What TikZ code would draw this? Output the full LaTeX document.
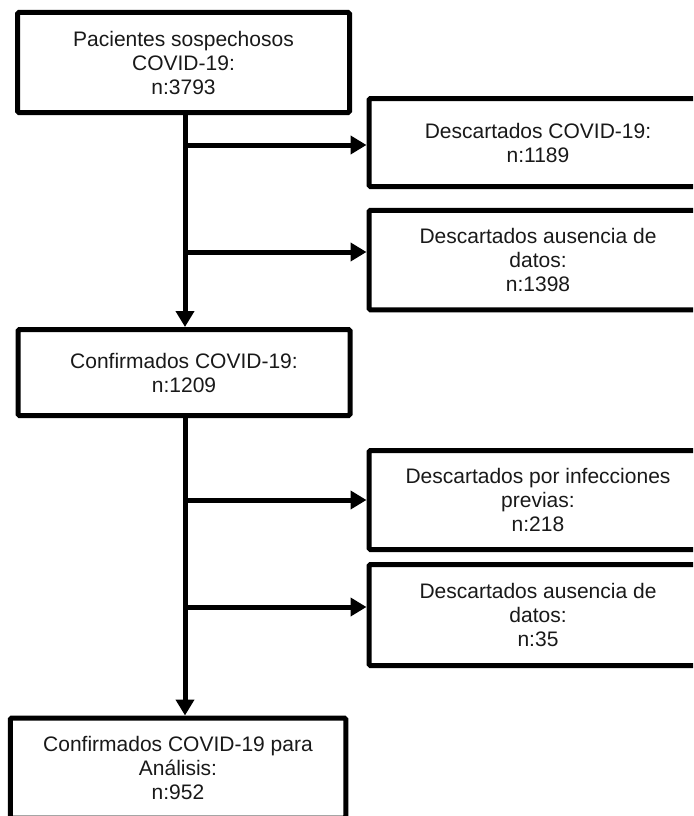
\documentclass[tikz,border=0pt]{standalone}
\usepackage{fontspec}
\setmainfont{Liberation Sans}
\usetikzlibrary{arrows.meta}
\begin{document}
\begin{tikzpicture}[x=1pt,y=-1pt,
  box/.style={draw=black,line width=5pt,rounded corners=1.5pt,fill=white,inner sep=0pt,
    align=center,font=\fontsize{21}{24}\selectfont,text=black!90},
  arr/.style={draw=black,line width=5pt,-{Triangle[length=16pt,width=18pt]}},
  seg/.style={draw=black,line width=5pt}]
\useasboundingbox (0,0) rectangle (693,816);
\clip (0,0) rectangle (693,816);
\fill[white] (0,0) rectangle (693,816);
% main column
\node[box,minimum width=332pt,minimum height=100pt] (p) at (183.5,62.5)
  {Pacientes sospechosos\\COVID-19:\\n:3793};
\node[box,minimum width=332pt,minimum height=86pt] (c) at (184,372.5)
  {Confirmados COVID-19:\\n:1209};
\node[box,minimum width=335.5pt,minimum height=100pt] (f) at (178,768)
  {Confirmados COVID-19 para\\Análisis:\\n:952};
% side boxes
\node[box,minimum width=338pt,minimum height=88pt] (a) at (538,142.5)
  {Descartados COVID-19:\\n:1189};
\node[box,minimum width=338pt,minimum height=99.5pt] (b) at (538,260)
  {Descartados ausencia de\\datos:\\n:1398};
\node[box,minimum width=338pt,minimum height=99pt] (d) at (538,500)
  {Descartados por infecciones\\previas:\\n:218};
\node[box,minimum width=338pt,minimum height=101pt] (e) at (538,615)
  {Descartados ausencia de\\datos:\\n:35};
% branch points
\coordinate (pa) at (185,145);
\coordinate (pb) at (185,252);
\coordinate (cd) at (185,500);
\coordinate (ce) at (185,607);
\coordinate (pt) at (185,0);
% main arrows
\draw[arr] (p.south -| pt) -- (c.north -| pt);
\draw[arr] (c.south -| pt) -- (f.north -| pt);
% side arrows
\draw[arr] (pa) -- (a.west |- pa);
\draw[arr] (pb) -- (b.west |- pb);
\draw[arr] (cd) -- (d.west |- cd);
\draw[arr] (ce) -- (e.west |- ce);
\end{tikzpicture}
\end{document}
